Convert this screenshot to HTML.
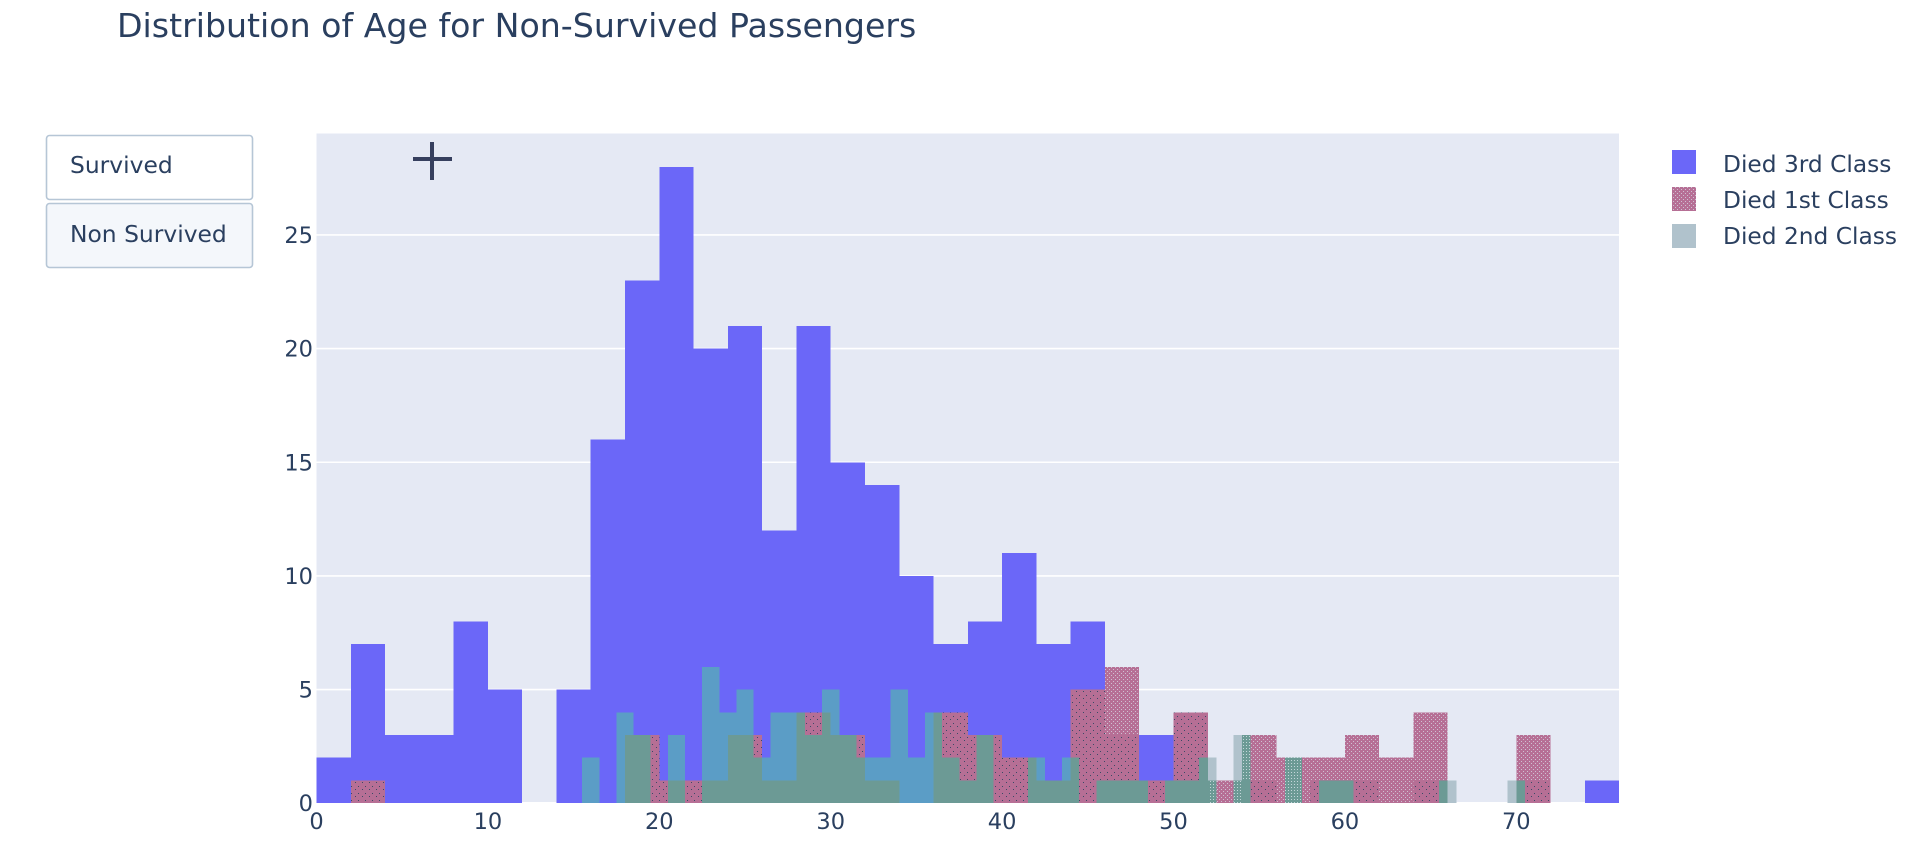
<!DOCTYPE html>
<html lang="en">
<head>
<meta charset="utf-8">
<title>Distribution of Age for Non-Survived Passengers</title>
<style>
html,body{margin:0;padding:0;background:#fff;width:1920px;height:854px;overflow:hidden}
svg{display:block}
text{font-family:"DejaVu Sans","Liberation Sans",sans-serif;fill:#2a3f5f}
</style>
</head>
<body>
<svg id="chart" xmlns="http://www.w3.org/2000/svg" width="1920" height="854" viewBox="0 0 1920 854">
<defs>
<pattern id="pinkDots" width="4" height="4" patternUnits="userSpaceOnUse"><rect x="1" y="1" width="1" height="1" fill="#cfc0d2"/><rect x="3" y="3" width="1" height="1" fill="#cfc0d2"/></pattern>
<pattern id="darkDots" width="7" height="7" patternUnits="userSpaceOnUse"><rect x="1" y="2" width="1" height="1" fill="#3a4a66"/><rect x="5" y="5" width="1" height="1" fill="#3a4a66"/></pattern>
<pattern id="greenDots" width="3" height="3" patternUnits="userSpaceOnUse"><rect x="1" y="1" width="1" height="1" fill="#c4d6da"/></pattern>
</defs>
<text x="117" y="37" font-size="33.2">Distribution of Age for Non-Survived Passengers</text>
<g>
<g>
<rect x="46.5" y="135.5" width="206" height="64" rx="3" fill="#ffffff" stroke="#b6c6d6" stroke-width="1.6"/>
<text x="70" y="173" font-size="23.4">Survived</text>
</g>
<g>
<rect x="46.5" y="203.5" width="206" height="64" rx="3" fill="#f4f7fb" stroke="#b6c6d6" stroke-width="1.6"/>
<text x="70" y="242" font-size="23.4">Non Survived</text>
</g>
</g>
<rect x="316.5" y="133.5" width="1302.5" height="669" fill="#e5e9f4"/>
<g id="grid"></g>
<g id="bars3"></g>
<g id="bars1"></g>
<g id="bars2"></g>
<g id="yticks"></g>
<g id="xticks"></g>
<g>
<rect x="413" y="157" width="39" height="4" fill="#363f5e"/>
<rect x="430" y="142" width="4" height="38" fill="#363f5e"/>
</g>
<g>
<g>
<rect x="1672" y="150" width="24" height="24" fill="#6b67f8"/>
<text x="1723" y="172" font-size="23.3">Died 3rd Class</text>
</g>
<g>
<rect x="1672" y="187" width="24" height="24" fill="#b66f95"/>
<rect x="1672" y="187" width="24" height="24" fill="url(#pinkDots)"/>
<text x="1723" y="208" font-size="23.3">Died 1st Class</text>
</g>
<g>
<rect x="1672" y="224" width="24" height="24" fill="#b0c2cc"/>
<text x="1723" y="244" font-size="23.3">Died 2nd Class</text>
</g>
</g>
</svg>
<script>
// Chart data
const coarseBinStarts = [0,2,4,6,8,10,12,14,16,18,20,22,24,26,28,30,32,34,36,38,40,42,44,46,48,50,52,54,56,58,60,62,64,66,68,70,72,74];
const died3rdCounts   = [2,7,3,3,8,5,0,5,16,23,28,20,21,12,21,15,14,10,7,8,11,7,8,3,3,4,0,1,0,1,1,0,1,0,0,1,0,1];
const died1stCounts   = [0,1,0,0,0,0,0,0,0,3,1,1,3,1,4,3,1,0,4,3,2,1,5,6,1,4,1,3,2,2,3,2,4,0,0,3,0,0];
const fineAges        = [16,18,19,21,23,24,25,26,27,28,29,30,31,32,33,34,35,36,37,38,39,42,43,44,46,47,48,50,51,52,54,57,59,60,66,70];
const died2ndCounts   = [2,4,3,3,6,4,5,2,4,4,3,5,3,2,2,5,2,4,2,1,3,2,1,2,1,1,1,1,1,2,3,2,1,1,1,1];
const coarseBinWidth = 2;
const fineBinWidth = 1;
const xTickLabels = [0,10,20,30,40,50,60,70];
const yTickLabels = [0,5,10,15,20,25];

// Axis functions
const X0 = 316.5, XPX = 17.14, Y0 = 803.2, YPX = 22.73;
const xScale = v => X0 + v * XPX;
const yScale = v => Y0 - v * YPX;
const NS = 'http://www.w3.org/2000/svg';
const BLUE='#6b67f8', PINK='#b66f95', GRAY='#b0c2cc', TEAL='#5b9dc6', GREEN='#6c9a95';

function addRect(parent, name, x0, x1, v0, v1, fill){
  if (v1 <= v0 || x1 <= x0) return;
  const el = document.createElementNS(NS, 'rect');
  
  
  el.setAttribute('x', xScale(x0));
  el.setAttribute('width', xScale(x1) - xScale(x0));
  el.setAttribute('y', yScale(v1));
  el.setAttribute('height', yScale(v0) - yScale(v1));
  el.setAttribute('fill', fill);
  el.setAttribute('shape-rendering', 'crispEdges');
  parent.appendChild(el);
}
function coarseValue(arr, age){
  for (let i = 0; i < coarseBinStarts.length; i++) {
    if (age >= coarseBinStarts[i] && age < coarseBinStarts[i] + coarseBinWidth) return arr[i];
  }
  return 0;
}

// Gridlines
const gridG = document.getElementById('grid');
yTickLabels.forEach(t => {
  const ln = document.createElementNS(NS, 'line');
  
  
  ln.setAttribute('x1', X0);
  ln.setAttribute('x2', 1619);
  ln.setAttribute('y1', yScale(t));
  ln.setAttribute('y2', yScale(t));
  ln.setAttribute('stroke', '#ffffff');
  ln.setAttribute('stroke-width', t === 0 ? 2.4 : 1.6);
  gridG.appendChild(ln);
});

// 3rd class (back layer)
const g3 = document.getElementById('bars3');
coarseBinStarts.forEach((s, i) => {
  addRect(g3, 'bar-3rd-class-age-' + s, s, s + coarseBinWidth, 0, died3rdCounts[i], BLUE);
});

// 1st class (middle layer), textured differently above and over the 3rd class bar
const g1 = document.getElementById('bars1');
coarseBinStarts.forEach((s, i) => {
  const p = died1stCounts[i], b = died3rdCounts[i];
  addRect(g1, 'bar-1st-class-age-' + s, s, s + coarseBinWidth, 0, p, PINK);
  addRect(g1, 'bar-1st-class-dark-texture-age-' + s, s, s + coarseBinWidth, 0, Math.min(p, b), 'url(#darkDots)');
  addRect(g1, 'bar-1st-class-light-texture-age-' + s, s, s + coarseBinWidth, Math.min(p, b), p, 'url(#pinkDots)');
});

// 2nd class (front layer); colour depends on what lies beneath
const g2 = document.getElementById('bars2');
fineAges.forEach((age, i) => {
  const v = died2ndCounts[i];
  const left = age - fineBinWidth / 2, right = age + fineBinWidth / 2;
  const cuts = [left];
  coarseBinStarts.forEach(s => { if (s > left && s < right) cuts.push(s); });
  cuts.push(right);
  for (let c = 0; c < cuts.length - 1; c++) {
    const a = cuts[c], z = cuts[c + 1];
    const pv = coarseValue(died1stCounts, a), bv = coarseValue(died3rdCounts, a);
    const overPink = Math.min(v, pv);
    const overAny = Math.min(v, Math.max(pv, bv));
    addRect(g2, 'bar-2nd-class-age-' + age, a, z, 0, overPink, GREEN);
    addRect(g2, 'bar-2nd-class-texture-age-' + age, a, z, Math.min(bv, overPink), overPink, 'url(#greenDots)');
    addRect(g2, 'bar-2nd-class-over-3rd-age-' + age, a, z, overPink, overAny, TEAL);
    addRect(g2, 'bar-2nd-class-over-plot-age-' + age, a, z, overAny, v, GRAY);
  }
});

// Tick labels
const yG = document.getElementById('yticks');
yTickLabels.forEach(t => {
  const el = document.createElementNS(NS, 'text');
  
  
  el.setAttribute('x', 313);
  el.setAttribute('y', yScale(t) + 8);
  el.setAttribute('text-anchor', 'end');
  el.setAttribute('font-size', '22.5');
  el.textContent = t;
  yG.appendChild(el);
});
const xG = document.getElementById('xticks');
xTickLabels.forEach(t => {
  const el = document.createElementNS(NS, 'text');
  
  
  el.setAttribute('x', xScale(t));
  el.setAttribute('y', 829);
  el.setAttribute('text-anchor', 'middle');
  el.setAttribute('font-size', '22.5');
  el.textContent = t;
  xG.appendChild(el);
});
</script>
</body>
</html>
